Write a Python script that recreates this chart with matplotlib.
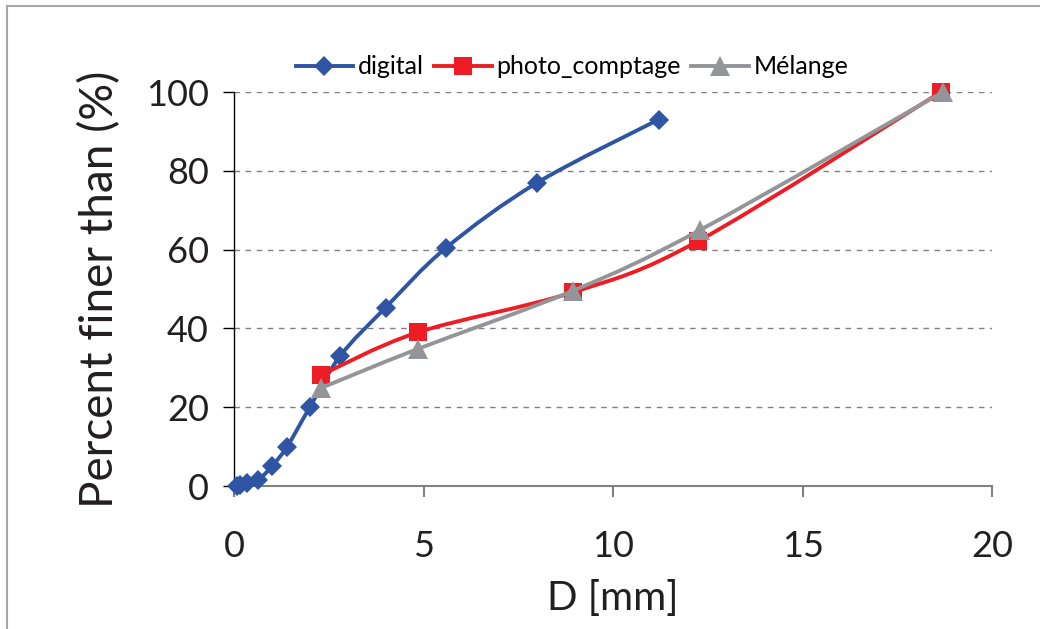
import numpy as np
import matplotlib.pyplot as plt
from matplotlib.path import Path
from matplotlib.patches import PathPatch, Rectangle
from matplotlib.lines import Line2D

plt.rcParams['font.family'] = ['Lato', 'DejaVu Sans']

# data
d_digital = [0.08, 0.16, 0.355, 0.63, 1.0, 1.4, 2.0, 2.8, 4.0, 5.6, 8.0, 11.2]
p_digital = [0.0, 0.3, 0.8, 1.5, 5.0, 10.0, 20.0, 33.0, 45.3, 60.5, 77.0, 93.0]

d_photo = [2.3, 4.85, 8.95, 12.25, 18.65]
p_photo = [28.2, 39.0, 49.2, 62.2, 100.0]

d_melange = [2.3, 4.85, 8.95, 12.3, 18.7]
p_melange = [24.9, 34.8, 49.6, 65.0, 100.0]

x_ticks = [0, 5, 10, 15, 20]
y_ticks = [0, 20, 40, 60, 80, 100]


def smooth_path(x, y):
    # Excel-like smoothed line: cubic Bezier segments through the points
    pts = np.column_stack([x, y]).astype(float)
    n = len(pts)
    verts = [pts[0]]
    codes = [Path.MOVETO]
    for i in range(n - 1):
        p0 = pts[i - 1] if i > 0 else pts[i]
        p1 = pts[i]
        p2 = pts[i + 1]
        p3 = pts[i + 2] if i + 2 < n else pts[i + 1]
        c1 = p1 + (p2 - p0) / 6.0
        c2 = p2 - (p3 - p1) / 6.0
        verts += [c1, c2, p2]
        codes += [Path.CURVE4] * 3
    return Path(verts, codes)


fig = plt.figure(figsize=(10.4, 6.29), dpi=100)
ax = fig.add_axes([0.225, 0.2273, 0.729, 0.6264])

# chart area border
fig.patches.append(Rectangle((7 / 1040, -0.1), 1.2, 1 - 6 / 629 + 0.1,
                             transform=fig.transFigure, fill=False,
                             edgecolor='#a6a6a6', linewidth=1.5))

series = [
    (d_digital, p_digital, '#2f54a3', 'D', 10.5, 'digital'),
    (d_photo, p_photo, '#ee1d25', 's', 13.5, 'photo_comptage'),
    (d_melange, p_melange, '#939598', '^', 15, 'Mélange'),
]

handles = []
for k, (x, y, c, m, ms, lab) in enumerate(series):
    ax.add_patch(PathPatch(smooth_path(x, y), fill=False, edgecolor=c,
                           linewidth=2.8, zorder=3 + k, capstyle='round'))
    ax.plot(x, y, linestyle='none', marker=m, markersize=ms, color=c,
            markeredgewidth=0, zorder=3 + k, clip_on=False)
    handles.append(Line2D([], [], color=c, linewidth=2.8, marker=m,
                          markersize=ms, markeredgewidth=0, label=lab))

ax.set_xlim(0, 20)
ax.set_ylim(0, 100)
ax.set_xticks(x_ticks)
ax.set_yticks(y_ticks)

ax.grid(axis='y', color='#808080', linestyle=(0, (4, 4)), linewidth=1)
ax.set_axisbelow(True)

for s in ['top', 'right']:
    ax.spines[s].set_visible(False)
ax.spines['left'].set_color('black')
ax.spines['left'].set_linewidth(1)
ax.spines['bottom'].set_color('#808080')
ax.spines['bottom'].set_linewidth(1.5)

ax.tick_params(axis='y', direction='out', length=8, width=1, color='black',
               labelsize=26, pad=10, labelcolor='#231f20')
ax.tick_params(axis='x', direction='out', length=8, width=1.5,
               color='#808080', labelsize=26, pad=24, labelcolor='#231f20')

ax.set_xlabel('D [mm]', fontsize=29, color='#231f20', labelpad=12)
ax.set_ylabel('Percent finer than (%)', fontsize=33, color='#231f20',
              labelpad=18)

ax.legend(handles=handles, loc='lower center', bbox_to_anchor=(0.446, 1.0),
          ncol=3, frameon=False, fontsize=18, handlelength=2.3,
          handletextpad=0.2, columnspacing=0.4, borderaxespad=0.15)

fig.savefig('out.png', dpi=100, facecolor='white')
